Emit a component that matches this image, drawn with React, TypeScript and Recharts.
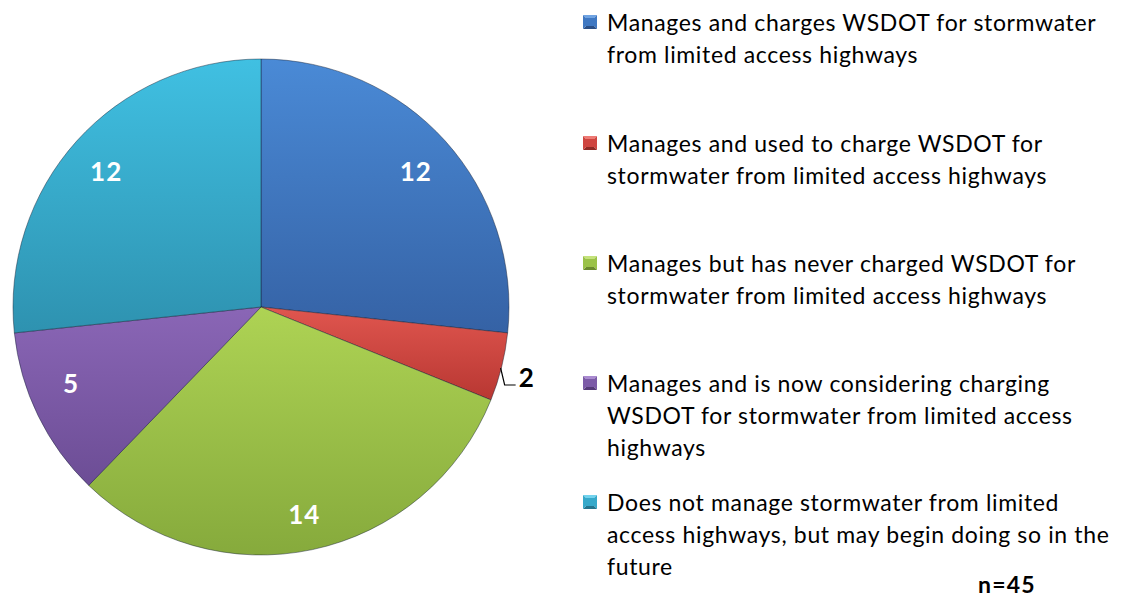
import React from "react";
import { PieChart, Pie, Cell, Legend } from "recharts";

const categories = [
  "Manages and charges WSDOT for stormwater\nfrom limited access highways",
  "Manages and used to charge WSDOT for\nstormwater from limited access highways",
  "Manages but has never charged WSDOT for\nstormwater from limited access highways",
  "Manages and is now considering charging\nWSDOT for stormwater from limited access\nhighways",
  "Does not manage stormwater from limited\naccess highways, but may begin doing so in the\nfuture",
];
const values = [12, 2, 14, 5, 12];
const sampleNote = "n=45";

const COLORS = [
  { top: "#4a8ad6", bottom: "#3562a5", mid: "#3f78c2", dark: "#2a4f86", light: "#6fa3e2" },
  { top: "#e0564f", bottom: "#b83732", mid: "#cf4540", dark: "#8f2a26", light: "#ee7a74" },
  { top: "#aed354", bottom: "#86aa3c", mid: "#9bc248", dark: "#6b8a2e", light: "#c4e27a" },
  { top: "#8a66b6", bottom: "#6c4d95", mid: "#7c5ba7", dark: "#553b78", light: "#a98ad0" },
  { top: "#40c0e2", bottom: "#2e92b0", mid: "#36a9ca", dark: "#23758e", light: "#72d3ee" },
];

const data = categories.map((name, i) => ({ name, value: values[i] }));

const FONT = "Lato, 'Open Sans', sans-serif";
const RADIAN = Math.PI / 180;

const renderLabel = (props: any) => {
  const { cx, cy, midAngle, outerRadius, value, index } = props;
  if (index === 1) {
    const sx = cx + outerRadius * Math.cos(-midAngle * RADIAN) - 1;
    const sy = cy + outerRadius * Math.sin(-midAngle * RADIAN) + 1;
    return (
      <g>
        <polyline
          points={`${sx},${sy} ${sx + 4},${sy + 17} ${sx + 15},${sy + 17}`}
          fill="none"
          stroke="#000"
          strokeWidth={1.2}
        />
        <text
          x={sx + 18}
          y={sy + 9}
          fill="#000"
          fontFamily={FONT}
          fontWeight={700}
          fontSize={26}
          dominantBaseline="central"
        >
          {value}
        </text>
      </g>
    );
  }
  const r = index === 3 ? outerRadius * 0.82 : outerRadius * 0.84;
  const ang = index === 3 ? midAngle - 5 : midAngle;
  const x = cx + r * Math.cos(-ang * RADIAN);
  const y = cy + r * Math.sin(-ang * RADIAN) + 3;
  return (
    <text
      x={x}
      y={y}
      fill="#fff"
      fontFamily={FONT}
      fontWeight={700}
      fontSize={26}
      letterSpacing={1}
      textAnchor="middle"
      dominantBaseline="central"
    >
      {value}
    </text>
  );
};

const Marker = ({ c }: { c: (typeof COLORS)[number] }) => (
  <svg width={14} height={14} style={{ display: "block" }}>
    <polygon points="0,0 14,0 7,7" fill={c.light} />
    <polygon points="14,0 14,14 7,7" fill={c.mid} />
    <polygon points="0,14 14,14 7,7" fill={c.dark} />
    <polygon points="0,0 0,14 7,7" fill={c.mid} />
    <rect x={3} y={3} width={8} height={8} fill={c.mid} />
  </svg>
);

const itemTops = [6, 127, 247, 367, 486];

const renderLegend = () => (
  <div style={{ position: "relative", width: 545, height: 602 }}>
    {categories.map((cat, i) => (
      <div
        key={i}
        style={{ position: "absolute", left: 0, top: itemTops[i], display: "flex", alignItems: "flex-start" }}
      >
        <div style={{ marginTop: 9, width: 24 }}>
          <Marker c={COLORS[i]} />
        </div>
        <div style={{ display: "flex", flexDirection: "column", alignItems: "flex-start" }}>
          {cat.split("\n").map((line, j) => (
            <span
              key={j}
              style={{
                fontFamily: FONT,
                fontSize: 23,
                letterSpacing: "0.65px",
                lineHeight: "32px",
                height: 32,
                color: "#000",
                whiteSpace: "pre",
              }}
            >
              {line}
            </span>
          ))}
        </div>
      </div>
    ))}
    <div
      style={{
        position: "absolute",
        left: 395,
        top: 574,
        fontFamily: FONT,
        fontSize: 23,
        lineHeight: "20px",
        letterSpacing: "1.2px",
        fontWeight: 700,
        color: "#000",
      }}
    >
      {sampleNote}
    </div>
  </div>
);

export default function App() {
  return (
    <div style={{ width: 1128, height: 602, position: "relative", background: "#fff" }}>
      <style>{`body{margin:0;background:#fff}`}</style>
      <PieChart width={1128} height={602} margin={{ top: 0, right: 0, bottom: 0, left: 0 }}>
        <defs>
          {COLORS.map((c, i) => (
            <linearGradient key={i} id={`grad${i}`} x1="0" y1="0" x2="0" y2="1">
              <stop offset="0%" stopColor={c.top} />
              <stop offset="100%" stopColor={c.bottom} />
            </linearGradient>
          ))}
        </defs>
        <Pie
          data={data}
          dataKey="value"
          nameKey="name"
          cx={261}
          cy={307}
          outerRadius={248}
          startAngle={90}
          endAngle={-270}
          isAnimationActive={false}
          label={renderLabel}
          labelLine={false}
          stroke="rgba(20,30,50,0.45)"
          strokeWidth={1}
        >
          {data.map((_, i) => (
            <Cell key={i} fill={`url(#grad${i})`} />
          ))}
        </Pie>
        <Legend
          content={renderLegend}
          wrapperStyle={{ position: "absolute", left: 583, top: 0, width: 545, height: 602 }}
        />
      </PieChart>
    </div>
  );
}
